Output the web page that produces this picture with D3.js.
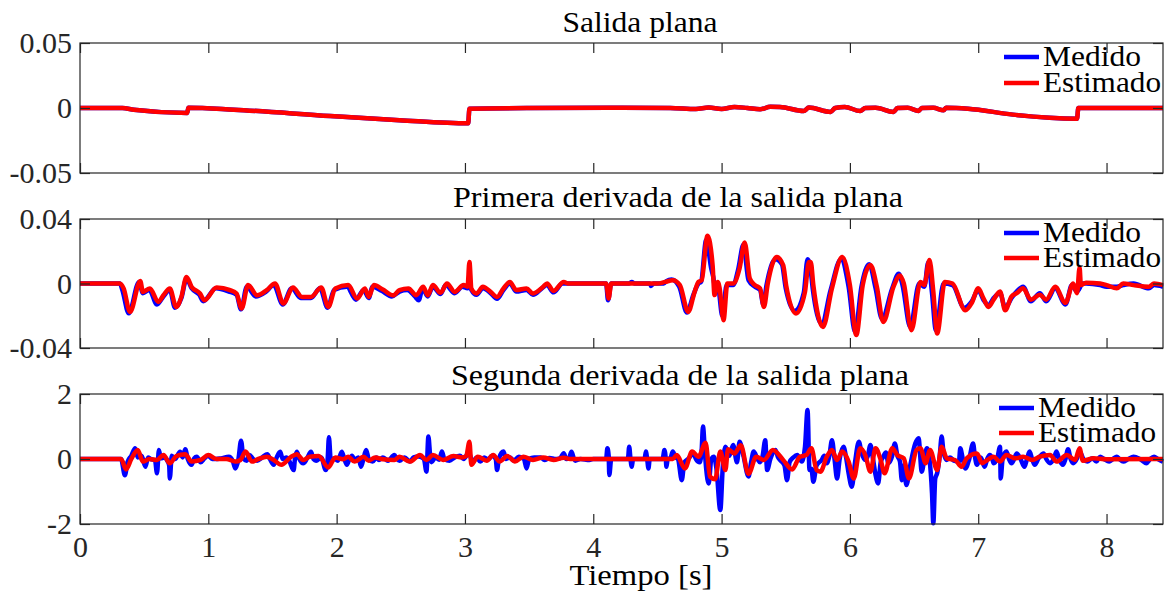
<!DOCTYPE html>
<html>
<head>
<meta charset="utf-8">
<script src="https://cdn.jsdelivr.net/npm/d3@7"></script>
<style>
  body { margin: 0; background: #fff; }
  svg text { font-family: "Liberation Serif", Tinos, "Times New Roman", "DejaVu Serif", serif; }
</style>
</head>
<body>
<svg id="chart" width="1173" height="594"></svg>
<script>
var serif = '"Liberation Serif", Tinos, "Times New Roman", "DejaVu Serif", serif';

// tick values / labels
var timeTicks = [0, 1, 2, 3, 4, 5, 6, 7, 8];
var yTicks1 = [-0.05, 0, 0.05], yLabels1 = ["-0.05", "0", "0.05"];
var yTicks2 = [-0.04, 0, 0.04], yLabels2 = ["-0.04", "0", "0.04"];
var yTicks3 = [-2, 0, 2], yLabels3 = ["-2", "0", "2"];

// salida plana [t, valor] (medido y estimado coinciden)
var salidaPlana = [[0,0],[0.33,0],[0.42,-0.0013],[0.835,-0.0038],[0.845,0.0002],[1.2,-0.0013],[1.95,-0.0062],
  [2.49,-0.0094],[3.025,-0.0118],[3.035,-0.0005],[3.5,0],[4.2,0.0002],[4.6,0],[4.8,-0.0008],[4.9,0.0004],
  [5.0,-0.0008],[5.1,0.0008],[5.2,0],[5.3,-0.001],[5.38,0.0009],[5.455,0.0008],[5.64,-0.0023],[5.68,0.0003],
  [5.85,-0.003],[5.885,0],[5.96,0.0008],[6.08,-0.0023],[6.12,0],[6.2,0.0002],[6.34,-0.003],[6.37,0],
  [6.45,0.0002],[6.535,-0.0023],[6.56,0],[6.65,0.0002],[6.73,-0.0018],[6.75,0.0002],[6.92,-0.0005],
  [7.27,-0.0051],[7.77,-0.0082],[7.78,0],[8.44,0]];

// primera derivada [t, valor*1e3]
var deriv1Estimado = [[0,0],[0.31,0],[0.34,-3],[0.39,-17.6],[0.47,1.6],[0.49,-5.2],[0.545,-3.1],[0.61,-11.4],
  [0.65,-7.3],[0.70,-3.1],[0.75,-14.5],[0.79,-8.3],[0.83,4.1],[0.87,-2.1],[0.935,-6.2],[0.97,-10.4],[1.065,-2.5],
  [1.17,-4.1],[1.22,-6.2],[1.26,-15.5],[1.31,-1],[1.38,-7.3],[1.455,-4.1],[1.52,0],[1.585,-12.4],[1.66,-2.5],
  [1.73,-8.3],[1.80,-8.3],[1.88,-2.5],[1.935,-14.5],[1.99,-3.1],[2.09,-1],[2.16,-9.3],[2.22,-3.1],[2.25,-8.3],
  [2.29,-1],[2.36,-3.7],[2.44,-7.3],[2.49,-4.1],[2.56,-3.1],[2.62,-7.3],[2.675,-2],[2.71,-7.3],[2.75,-1],
  [2.81,-5.8],[2.86,0],[2.92,-5.2],[2.99,-1],[3.02,-2],[3.035,13.4],[3.05,-3.1],[3.09,-6.2],[3.14,-2],
  [3.20,-5.2],[3.25,-8.3],[3.30,-3.1],[3.35,1],[3.40,-4.1],[3.48,-3.1],[3.53,-6.2],[3.61,-2],[3.64,0],
  [3.69,-4.6],[3.77,1],[3.80,0],[4.10,0],[4.12,-9.3],[4.14,0],[4.50,0],[4.56,1],[4.62,2],[4.675,-1],
  [4.74,-17.6],[4.79,-5.2],
  [4.82,1],[4.845,2],[4.89,29.6],[4.93,11.4],[4.945,-7.2],[4.97,1],[4.985,-3],[5.015,-22.8],[5.045,0],
  [5.09,0],[5.14,9.3],[5.18,25.5],[5.22,3],[5.26,-1],[5.30,-3],[5.33,-14.5],[5.36,0],[5.43,16.5],[5.48,11.4],
  [5.505,-2],[5.58,-18.6],[5.65,-5.2],[5.68,13.4],[5.695,13.4],[5.715,-1],[5.79,-27],[5.86,-3],[5.94,16.5],
  [6.0,-1],[6.05,-32],[6.10,-1],[6.16,11.4],[6.21,-2],[6.26,-23.8],[6.34,-2],[6.39,5],[6.42,0],[6.48,-29],
  [6.55,1],[6.58,-1],[6.62,14.5],[6.65,-5],[6.68,-31],[6.74,1],[6.80,0],[6.90,-16.6],[6.95,-12],[7.0,-3],
  [7.04,-9],[7.08,-14.5],[7.12,-10],[7.17,-5],[7.21,-16.6],[7.26,-8],[7.30,-6],[7.35,-3],[7.41,-10],[7.48,-7],
  [7.53,-10],[7.60,-2],[7.68,-12],[7.74,0],[7.77,-6],[7.79,10],[7.80,-1],[7.84,0.5],[7.95,0],[8.0,-1],
  [8.08,-3],[8.13,0],[8.21,-1],[8.33,-2],[8.37,0],[8.44,-1]];

var deriv1Medido = [[0,0],[0.31,0],[0.33,-4],[0.38,-18.5],[0.46,1],[0.49,-6],[0.54,-4],[0.60,-13],
  [0.65,-8],[0.70,-4],[0.74,-15],[0.79,-9],[0.83,3],[0.87,-3],[0.93,-7],[0.96,-11],[1.06,-3],
  [1.16,-5],[1.22,-7],[1.255,-16],[1.30,-2],[1.37,-8],[1.45,-5],[1.51,-1],[1.58,-13],[1.65,-3],
  [1.72,-9],[1.80,-9],[1.87,-3],[1.93,-15],[1.98,-4],[2.08,-2],[2.15,-10],[2.21,-4],[2.25,-9],
  [2.28,-2],[2.35,-4.5],[2.43,-8],[2.49,-5],[2.55,-4],[2.61,-8],[2.64,-10.4],[2.67,-3],[2.71,-8],[2.75,-2],
  [2.81,-6.5],[2.85,-1],[2.92,-6],[2.98,-2],[3.02,-3],[3.035,-1],[3.05,-4],[3.09,-7],[3.14,-3],
  [3.20,-6],[3.25,-9.5],[3.30,-4],[3.35,0],[3.40,-5],[3.48,-4],[3.53,-7],[3.60,-3],[3.64,-1],
  [3.69,-5.5],[3.76,0],[3.80,0],[4.10,0],[4.115,-10.4],[4.14,0],[4.28,0],[4.30,1],[4.32,0],[4.44,0],
  [4.45,-1.5],[4.47,0],[4.55,0],[4.57,1.5],[4.61,2.5],[4.67,-2],[4.73,-18],[4.78,-7],[4.82,0],[4.84,1],
  [4.88,27],[4.92,9],[4.935,4],
  [4.95,-3],[4.975,-4],[5.005,-20],[5.04,-1],[5.09,-1],[5.13,9],[5.17,24],[5.21,2],[5.26,-2],[5.30,-4],
  [5.325,-13],[5.35,-1],[5.42,15],[5.47,12],[5.50,-3],[5.57,-17],[5.64,-6],[5.67,15],[5.69,11],[5.71,-3],
  [5.78,-25],[5.85,-4],[5.93,15],[5.99,-2],[6.04,-30],[6.09,-2],[6.15,12],[6.20,-3],[6.25,-22],[6.33,-3],
  [6.38,6],[6.41,-1],[6.47,-27],[6.54,0],[6.58,-2],[6.61,13],[6.64,-6],[6.67,-29],[6.73,0],[6.80,-1],
  [6.89,-15],[6.95,-11],[7.0,-4],[7.04,-10],[7.08,-13.5],[7.12,-9],[7.17,-6],[7.21,-15],[7.26,-9],
  [7.30,-5],[7.35,-2],[7.41,-11],[7.48,-6],[7.53,-11],[7.60,-3],[7.68,-13],[7.73,-1],[7.77,-5],[7.79,-3],
  [7.81,0],[7.84,0],[7.95,-1],[8.0,-2],[8.08,-2],[8.13,-1],[8.21,0],[8.33,-3],[8.37,-1],[8.44,-2]];

// segunda derivada [t, valor]
var deriv2Estimado = [[0,0],[0.32,0],[0.36,-0.32],[0.40,0],[0.45,0.28],[0.49,-0.08],[0.54,0],[0.60,-0.03],
  [0.65,0.12],[0.70,-0.13],[0.75,0.09],[0.82,0.15],[0.87,-0.08],[0.94,-0.03],[1.00,0.12],[1.065,0],[1.14,0],
  [1.21,-0.08],[1.25,-0.03],[1.29,0.23],[1.34,-0.08],[1.39,0],[1.455,0.07],[1.51,-0.03],[1.57,-0.18],
  [1.64,0.05],[1.69,0.15],[1.74,-0.03],[1.79,0.07],[1.86,0.09],[1.935,-0.26],[1.99,0.05],[2.05,-0.01],
  [2.09,0.07],[2.14,-0.08],[2.21,0.07],[2.25,-0.05],[2.30,0.05],[2.36,-0.01],[2.45,-0.03],[2.49,0.07],
  [2.57,-0.08],[2.65,0.12],[2.70,-0.03],[2.75,0.12],[2.83,-0.03],[2.91,0.09],[2.975,0.05],[3.01,0.09],
  [3.035,0.53],[3.05,-0.18],[3.10,0.07],[3.17,-0.05],[3.22,0.12],[3.27,-0.08],[3.33,0.09],[3.39,-0.08],
  [3.455,0.07],[3.53,-0.03],[3.61,0.05],[3.69,-0.03],[3.77,0.04],[3.82,0],[4.62,0],[4.65,0.12],[4.715,-0.29],
  [4.77,0.23],[4.82,0.07],[4.875,0.5],[4.91,-0.54],[4.95,-0.62],[4.99,0.23],[5.03,-0.34],[5.05,0.3],
  [5.10,0.17],[5.15,0.42],[5.21,-0.46],[5.27,0.07],[5.33,-0.03],[5.40,0.28],[5.48,-0.03],[5.55,-0.32],
  [5.61,0.07],[5.66,0.12],[5.70,0.33],[5.74,-0.34],[5.77,-0.39],[5.82,0.07],[5.86,0.28],[5.90,-0.03],
  [5.94,0.23],[5.99,-0.08],[6.03,-0.6],[6.08,0.33],[6.12,0.12],[6.16,-0.39],[6.20,0.33],[6.24,-0.03],
  [6.27,-0.44],[6.33,0.33],[6.37,0.12],[6.42,0.02],[6.46,-0.6],[6.52,0.28],[6.55,0.33],[6.59,-0.13],
  [6.625,0.28],[6.68,-0.34],[6.715,0.38],[6.755,0.02],[6.82,-0.03],[6.87,-0.24],[6.91,0.02],[6.99,0.17],
  [7.03,-0.13],[7.07,-0.03],[7.12,0.07],[7.17,-0.08],[7.22,0.12],[7.29,0.02],[7.35,0.07],[7.42,-0.03],
  [7.48,0.07],[7.56,0.12],[7.61,-0.08],[7.69,0.12],[7.755,-0.03],[7.79,0.33],[7.815,-0.05],[7.90,0.02],
  [8.0,-0.01],[8.44,0]];

var deriv2Medido = [[0,0],[0.32,0],[0.35,-0.5],[0.37,-0.1],[0.40,0.1],[0.43,0.33],[0.45,0.05],[0.48,0.1],
  [0.51,-0.24],[0.53,0.05],[0.55,0],[0.585,-0.05],[0.60,-0.44],[0.615,0.28],[0.63,0.02],[0.66,0.05],
  [0.68,-0.05],[0.695,-0.2],[0.70,-0.6],[0.715,0.1],[0.74,0],[0.78,0.22],[0.80,0.05],[0.82,0.3],[0.84,0],
  [0.87,-0.18],[0.89,0.02],[0.91,0.07],[0.94,-0.1],[0.97,0.02],[1.0,0.1],[1.03,0],[1.06,0],[1.10,0.02],
  [1.16,0.07],[1.19,-0.05],[1.21,-0.29],[1.235,0],[1.255,0.56],[1.275,0],[1.30,-0.05],[1.32,0.12],[1.35,0],
  [1.38,-0.05],[1.42,0.05],[1.46,0.15],[1.48,0],[1.51,-0.18],[1.53,0.02],[1.56,0.22],[1.58,0],[1.61,0.05],
  [1.63,-0.05],[1.665,-0.34],[1.675,0],[1.69,0.22],[1.71,0],[1.74,-0.13],[1.77,0.02],[1.80,0.22],[1.82,0],
  [1.84,-0.05],[1.88,0.05],[1.915,-0.34],[1.93,0],[1.94,0.67],[1.955,-0.08],[1.98,0.02],[2.01,-0.05],
  [2.04,0.22],[2.06,0],[2.08,-0.18],[2.10,0],[2.12,0.1],[2.14,-0.03],[2.17,0.05],[2.19,-0.24],[2.21,0.02],
  [2.23,0.28],[2.25,0],[2.28,-0.08],[2.31,0.05],[2.33,-0.03],[2.36,0.05],[2.40,-0.05],[2.45,0.12],
  [2.47,0],[2.49,-0.05],[2.53,0.05],[2.57,-0.08],[2.60,0.05],[2.64,0.08],[2.68,0],[2.70,-0.39],[2.715,0.69],
  [2.73,0.05],[2.74,-0.1],[2.77,0.05],[2.80,-0.02],[2.82,0.23],[2.84,0],[2.88,-0.05],[2.92,0.05],
  [2.96,0.1],[2.99,0],[3.03,0.2],[3.06,-0.1],[3.09,0.05],[3.12,-0.08],[3.15,0.05],[3.18,-0.02],[3.21,0.1],
  [3.24,0],[3.25,-0.34],[3.265,0.02],[3.30,0.23],[3.32,0],[3.35,0.05],[3.38,-0.05],[3.42,0.07],[3.46,0],
  [3.48,-0.29],[3.50,0],[3.54,0.05],[3.59,0.05],[3.62,-0.03],[3.66,0.03],[3.70,0],[3.74,0.02],[3.77,0.18],
  [3.79,0],[3.81,0.02],[3.83,0.22],[3.85,0],[3.86,-0.05],[3.90,0],[3.97,-0.03],[4.0,0],[4.10,0],[4.11,0.33],
  [4.12,0.1],[4.125,-0.49],[4.14,0],[4.27,0],[4.28,0.38],[4.29,0],[4.30,-0.24],[4.31,0],[4.40,0],
  [4.41,0.23],[4.42,0],[4.43,-0.29],[4.44,0],[4.54,0],[4.555,0.28],[4.565,0],[4.57,-0.24],[4.58,0],
  [4.60,0.02],[4.62,0.23],[4.64,0.05],[4.66,0],[4.69,-0.65],[4.71,-0.1],[4.74,0],[4.78,0.17],[4.80,0],
  [4.83,-0.1],[4.845,0.3],[4.855,1.0],[4.87,0.2],[4.88,-0.3],[4.90,-0.75],[4.92,0],[4.94,0.07],[4.96,-0.3],
  [4.99,-1.57],[5.01,-0.2],[5.03,0.38],[5.06,0.1],[5.09,0.43],[5.12,-0.1],[5.14,0.53],[5.17,0.1],
  [5.21,-0.54],[5.23,-0.1],[5.25,0.23],[5.28,0],[5.30,-0.1],[5.32,0.1],[5.34,0.58],[5.355,-0.34],
  [5.38,0],[5.42,0.28],[5.44,0.05],[5.46,-0.05],[5.49,-0.2],[5.51,-0.65],[5.53,-0.1],[5.56,0.05],
  [5.59,0.12],[5.625,-0.08],[5.65,0.38],[5.67,1.51],[5.685,-0.34],[5.70,-0.3],[5.715,-0.7],[5.74,-0.2],
  [5.78,-0.03],[5.80,0.1],[5.82,-0.13],[5.84,0.1],[5.86,0.58],[5.88,0],[5.90,-0.6],[5.92,0],[5.95,0.38],
  [5.97,0.05],[5.99,-0.44],[6.015,-0.85],[6.04,-0.1],[6.07,0.53],[6.09,0.2],[6.12,-0.03],[6.14,0.1],
  [6.16,0.43],[6.18,0],[6.20,-0.49],[6.22,-0.75],[6.24,-0.1],[6.26,0.07],[6.28,0.2],[6.30,-0.13],
  [6.33,0.1],[6.35,0.48],[6.37,0.1],[6.39,-0.08],[6.405,-0.65],[6.42,-0.2],[6.44,-0.8],[6.47,-0.2],
  [6.51,0.48],[6.535,0.64],[6.56,-0.39],[6.58,0],[6.60,0.33],[6.62,0],[6.64,-1.06],[6.65,-1.98],
  [6.665,-0.6],[6.68,-0.44],[6.70,0.1],[6.715,0.69],[6.73,0.2],[6.755,-0.03],[6.78,0.05],[6.81,-0.05],
  [6.85,-0.08],[6.86,0.33],[6.88,0],[6.90,-0.29],[6.93,0],[6.96,0.48],[6.975,0.05],[6.99,-0.18],
  [7.02,0.05],[7.05,-0.24],[7.07,0],[7.09,0.12],[7.11,0],[7.12,-0.13],[7.15,0.05],[7.17,0.38],
  [7.175,-0.6],[7.19,0],[7.22,0.23],[7.24,0],[7.26,-0.13],[7.28,0],[7.30,0.17],[7.33,0],[7.36,-0.24],
  [7.38,0],[7.40,0.23],[7.42,0],[7.44,-0.18],[7.47,0.02],[7.51,0.17],[7.53,0],[7.56,-0.13],[7.59,0.02],
  [7.61,0.23],[7.63,0],[7.66,-0.18],[7.68,0],[7.70,0.3],[7.72,0],[7.74,-0.13],[7.77,0.02],[7.79,0.23],
  [7.82,0],[7.85,-0.08],[7.89,0.02],[7.92,-0.08],[7.95,0.07],[7.98,0],[8.02,-0.08],[8.05,0],[8.08,0.07],
  [8.10,0],[8.13,-0.08],[8.17,0],[8.21,0.07],[8.26,0],[8.31,-0.13],[8.34,0],[8.37,0.07],[8.40,0],[8.44,-0.08]];

var svg = d3.select("#chart");
var axisColor = "#262626";

var x = d3.scaleLinear().domain([0, 8.44]).range([80, 1163]);

var panels = [
  { top: 43, bottom: 173, domain: [-0.05, 0.05], ticks: yTicks1, labels: yLabels1, k: 1,
    title: "Salida plana", titleX: 640, titleY: 32, titleW: 155,
    medido: salidaPlana, estimado: salidaPlana, legX: 1004, legY: [57, 83] },
  { top: 219, bottom: 348, domain: [-0.04, 0.04], ticks: yTicks2, labels: yLabels2, k: 0.001,
    title: "Primera derivada de la salida plana", titleX: 678, titleY: 207, titleW: 450,
    medido: deriv1Medido, estimado: deriv1Estimado, legX: 1004, legY: [233, 258] },
  { top: 394, bottom: 524, domain: [-2, 2], ticks: yTicks3, labels: yLabels3, k: 1,
    title: "Segunda derivada de la salida plana", titleX: 680, titleY: 385, titleW: 458,
    medido: deriv2Medido, estimado: deriv2Estimado, legX: 999, legY: [408, 433] }
];

panels.forEach(function(p, i) {
  var y = d3.scaleLinear().domain(p.domain).range([p.bottom, p.top]);
  var g = svg.append("g");

  var line = d3.line()
    .curve(d3.curveMonotoneX)
    .x(d => x(d[0]))
    .y(d => y(d[1] * p.k));

  g.append("path").datum(p.medido)
    .attr("d", line).attr("fill", "none")
    .attr("stroke", "#0000ff").attr("stroke-width", 4.5)
    .attr("stroke-linejoin", "round");
  g.append("path").datum(p.estimado)
    .attr("d", line).attr("fill", "none")
    .attr("stroke", "#ff0000").attr("stroke-width", 4.5)
    .attr("stroke-linejoin", "round");

  // axes, ticks pointing inward
  var bottomAxis = d3.axisBottom(x).tickValues(timeTicks).tickSize(-10).tickPadding(12)
    .tickFormat(i === 2 ? d3.format("d") : "");
  var topAxis = d3.axisTop(x).tickValues(timeTicks).tickSize(-10).tickFormat("");
  var leftAxis = d3.axisLeft(y).tickValues(p.ticks).tickSize(-10).tickPadding(8)
    .tickFormat((d, j) => p.labels[j]);
  var rightAxis = d3.axisRight(y).tickValues(p.ticks).tickSize(-10).tickFormat("");

  [[bottomAxis, `translate(0,${p.bottom})`], [topAxis, `translate(0,${p.top})`],
   [leftAxis, "translate(80,0)"], [rightAxis, "translate(1163,0)"]].forEach(function(a) {
    var ax = g.append("g").attr("transform", a[1]).call(a[0]);
    ax.attr("font-family", serif).attr("font-size", 30);
    ax.select(".domain").remove();
    ax.selectAll("line").attr("stroke", axisColor).attr("stroke-width", 1.2);
    ax.selectAll("text").attr("fill", axisColor)
      .attr("font-family", serif).attr("font-size", 30);
  });

  g.append("rect")
    .attr("x", 80).attr("y", p.top)
    .attr("width", 1163 - 80).attr("height", p.bottom - p.top)
    .attr("fill", "none").attr("stroke", axisColor).attr("stroke-width", 1.2);

  g.append("text")
    .attr("x", p.titleX).attr("y", p.titleY)
    .attr("text-anchor", "middle")
    .attr("font-family", serif).attr("font-size", 30)
    .attr("textLength", p.titleW).attr("lengthAdjust", "spacingAndGlyphs")
    .text(p.title);

  // legend
  var names = ["Medido", "Estimado"], cols = ["#0000ff", "#ff0000"], widths = [98, 118];
  names.forEach(function(n, j) {
    g.append("line")
      .attr("x1", p.legX).attr("x2", p.legX + 35)
      .attr("y1", p.legY[j]).attr("y2", p.legY[j])
      .attr("stroke", cols[j]).attr("stroke-width", 4.5);
    g.append("text")
      .attr("x", p.legX + 39).attr("y", p.legY[j] + 9)
      .attr("font-family", serif).attr("font-size", 29)
      .attr("textLength", widths[j]).attr("lengthAdjust", "spacingAndGlyphs")
      .text(n);
  });
});

svg.append("text")
  .attr("x", 641).attr("y", 585)
  .attr("text-anchor", "middle")
  .attr("font-family", serif).attr("font-size", 30)
  .attr("textLength", 143).attr("lengthAdjust", "spacingAndGlyphs")
  .text("Tiempo [s]");
</script>
</body>
</html>
